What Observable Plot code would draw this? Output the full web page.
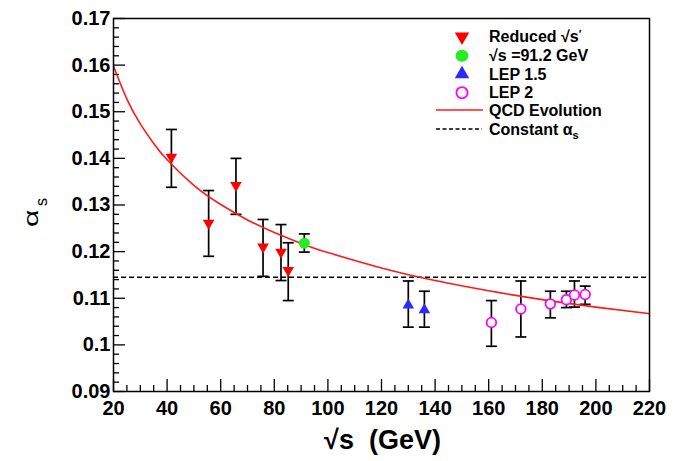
<!DOCTYPE html>
<html><head><meta charset="utf-8">
<script src="https://cdn.jsdelivr.net/npm/d3@7"></script>
<script src="https://cdn.jsdelivr.net/npm/@observablehq/plot@0.6"></script>
<style>
body{margin:0;background:#fff}
#chart{position:relative;width:680px;height:461px}
</style>
</head><body><div id="chart"></div>
<script>
// ---- tick labels ----
const xTicks = [20, 40, 60, 80, 100, 120, 140, 160, 180, 200, 220];
const yTicks = [0.09, 0.10, 0.11, 0.12, 0.13, 0.14, 0.15, 0.16, 0.17];

// ---- Reduced sqrt(s') ----
const reducedE  = [41.6, 55.5, 65.7, 75.8, 82.5, 85.2];
const reducedA  = [0.1403, 0.1261, 0.1342, 0.1210, 0.1199, 0.1160];
const reducedHi = [0.1462, 0.1331, 0.1400, 0.1269, 0.1258, 0.1219];
const reducedLo = [0.1338, 0.1190, 0.1280, 0.1147, 0.1138, 0.1095];

// ---- sqrt(s) = 91.2 GeV ----
const zE  = [91.2];
const zA  = [0.1218];
const zHi = [0.1238];
const zLo = [0.1199];

// ---- LEP 1.5 ----
const lep15E  = [130, 136];
const lep15A  = [0.1085, 0.1075];
const lep15Hi = [0.1137, 0.1115];
const lep15Lo = [0.1038, 0.1038];

// ---- LEP 2 ----
const lep2E  = [161, 172, 183, 189, 192, 196];
const lep2A  = [0.1048, 0.1077, 0.1088, 0.1097, 0.1107, 0.1108];
const lep2Hi = [0.1095, 0.1137, 0.1115, 0.1115, 0.1137, 0.1126];
const lep2Lo = [0.0997, 0.1017, 0.1058, 0.1080, 0.1081, 0.1087];

// ---- QCD evolution curve ----
const qcdE = [20, 25, 30, 35, 40, 50, 60, 70, 80, 91.2, 100, 120, 140, 160, 180, 200, 220];
const qcdA = [0.1598, 0.1527, 0.1474, 0.1432, 0.1397, 0.1342, 0.1301, 0.1268, 0.1241, 0.1215, 0.1198, 0.1165, 0.1138, 0.1116, 0.1097, 0.1081, 0.1067];

// ---- constant alpha_s ----
const constA = [0.1145];

// ---- build tables ----
const mk = (E, A, Hi, Lo) => E.map((e, i) => ({e, a: A[i], hi: Hi[i], lo: Lo[i]}));
const reduced = mk(reducedE, reducedA, reducedHi, reducedLo);
const zpole = mk(zE, zA, zHi, zLo);
const lep15 = mk(lep15E, lep15A, lep15Hi, lep15Lo);
const lep2 = mk(lep2E, lep2A, lep2Hi, lep2Lo);
const allPts = [...reduced, ...zpole, ...lep15, ...lep2];
const qcd = qcdE.map((e, i) => ({e, a: qcdA[i]}));

const W = 680, H = 461, mL = 113, mR = 31, mT = 18, mB = 70;
const frameW = W - mL - mR, frameH = H - mT - mB;
const xMinor = d3.range(20, 221, 5).filter(v => v % 20 !== 0);
const yMinor = d3.range(0, 41).filter(i => i % 5 !== 0).map(i => 0.09 + i * 0.002);

const capSym = {draw(ctx, size) { const w = Math.sqrt(size / Math.PI); ctx.moveTo(-w, 0); ctx.lineTo(w, 0); }};
const FONT = "'Liberation Sans', Arial, Helvetica, sans-serif";
const RED = "#ff0000";

const plot = Plot.plot({
  width: W, height: H,
  marginLeft: mL, marginRight: mR, marginTop: mT, marginBottom: mB,
  style: {fontFamily: FONT, background: "#fff", color: "#000"},
  x: {domain: [20, 220]},
  y: {domain: [0.09, 0.17]},
  marks: [
    // inward tick marks
    Plot.tickX(xTicks, {x: d => d, insetTop: frameH - 12, stroke: "#000", strokeWidth: 1.3}),
    Plot.tickX(xMinor, {x: d => d, insetTop: frameH - 6, stroke: "#000", strokeWidth: 1.3}),
    Plot.tickY(yTicks, {y: d => d, insetRight: frameW - 12, stroke: "#000", strokeWidth: 1.3}),
    Plot.tickY(yMinor, {y: d => d, insetRight: frameW - 6, stroke: "#000", strokeWidth: 1.3}),
    Plot.axisX({ticks: xTicks, tickSize: 0, tickPadding: 9, tickFormat: d => String(d), fontSize: 20, fontWeight: "bold", label: null}),
    Plot.axisY({ticks: yTicks, tickSize: 0, tickPadding: 3, tickFormat: d => String(+d.toFixed(2)), fontSize: 20, fontWeight: "bold", label: null}),
    // constant alpha_s
    Plot.ruleY(constA, {y: d => d, stroke: "#000", strokeWidth: 1.4, strokeDasharray: "5,3"}),
    // error bars
    Plot.ruleX(allPts, {x: "e", y1: "lo", y2: "hi", stroke: "#000", strokeWidth: 1.7}),
    Plot.dot(allPts, {x: "e", y: "hi", symbol: capSym, r: 5.5, stroke: "#000", strokeWidth: 1.7}),
    Plot.dot(allPts, {x: "e", y: "lo", symbol: capSym, r: 5.5, stroke: "#000", strokeWidth: 1.7}),
    // QCD curve
    Plot.line(qcd, {x: "e", y: "a", curve: "natural", stroke: "#ff1a1a", strokeWidth: 1.6}),
    // markers
    Plot.dot(reduced, {x: "e", y: "a", symbol: "triangle", rotate: 180, r: 4.3, fill: RED, stroke: "none"}),
    Plot.dot(zpole, {x: "e", y: "a", symbol: "circle", r: 5.5, fill: "#22ee22", stroke: "none"}),
    Plot.dot(lep15, {x: "e", y: "a", symbol: "triangle", r: 4.3, fill: "#2b2bff", stroke: "none"}),
    Plot.dot(lep2, {x: "e", y: "a", symbol: "circle", r: 4.8, fill: "#fff", stroke: "#ff00ff", strokeWidth: 1.8}),
    Plot.frame({stroke: "#000", strokeWidth: 1.5}),
    // x title
    Plot.text(["\u221As\u00a0\u00a0(GeV)"], {frameAnchor: "bottom", dy: 57, dx: 1, text: d => d, fontSize: 27, fontWeight: "bold"})
  ]
});
document.getElementById("chart").appendChild(plot);

// ---- y title (alpha_s) ----
const svg = d3.select(plot);
const yt = svg.append("g").attr("transform", "translate(38,227) rotate(-90)")
  .attr("font-family", FONT).attr("fill", "#000").attr("text-anchor", "start");
yt.append("text").attr("transform", "scale(1.5,1)").attr("font-size", 20).text("\u03b1");
yt.append("text").attr("x", 21).attr("y", 9).attr("font-size", 16).text("s");

// ---- legend ----
const lg = svg.append("g").attr("font-family", FONT).attr("text-anchor", "start");
const mx = 462, tx = 489;
const rows = [
  {y: 36.7, kind: "down", color: RED},
  {y: 55.7, kind: "dot", color: "#22ee22"},
  {y: 74, kind: "up", color: "#2b2bff"},
  {y: 92.7, kind: "open", color: "#ff00ff"},
  {y: 110, kind: "line"},
  {y: 129, kind: "dash"}
];
rows.forEach(r => {
  if (r.kind === "down" || r.kind === "up") {
    lg.append("path").attr("d", d3.symbol(d3.symbolTriangle, 90)())
      .attr("transform", `translate(${mx},${r.y}) rotate(${r.kind === "down" ? 180 : 0})`).attr("fill", r.color);
  } else if (r.kind === "dot") {
    lg.append("ellipse").attr("cx", mx).attr("cy", r.y).attr("rx", 6.5).attr("ry", 6).attr("fill", r.color);
  } else if (r.kind === "open") {
    lg.append("circle").attr("cx", mx).attr("cy", r.y).attr("r", 5.6).attr("fill", "#fff").attr("stroke", r.color).attr("stroke-width", 1.8);
  } else if (r.kind === "line") {
    lg.append("line").attr("x1", 436).attr("x2", 483).attr("y1", r.y).attr("y2", r.y).attr("stroke", "#ff1a1a").attr("stroke-width", 1.6);
  } else {
    lg.append("line").attr("x1", 436).attr("x2", 482).attr("y1", r.y).attr("y2", r.y).attr("stroke", "#000").attr("stroke-width", 1.3).attr("stroke-dasharray", "4,2.5");
  }
});
const lt = (y) => lg.append("text").attr("x", tx).attr("y", y).attr("dy", "0.36em").attr("font-size", 16).attr("font-weight", "bold").attr("fill", "#000");
let t = lt(rows[0].y); t.append("tspan").text("Reduced \u221As"); t.append("tspan").attr("dy", "-0.45em").attr("font-size", 11).text("\u2032");
lt(rows[1].y).text("\u221As =91.2 GeV");
lt(rows[2].y).text("LEP 1.5");
lt(rows[3].y).text("LEP 2");
lt(rows[4].y).text("QCD Evolution");
t = lt(rows[5].y); t.append("tspan").text("Constant \u03b1"); t.append("tspan").attr("dy", "0.35em").attr("font-size", 11).text("s");
</script>
</body></html>
